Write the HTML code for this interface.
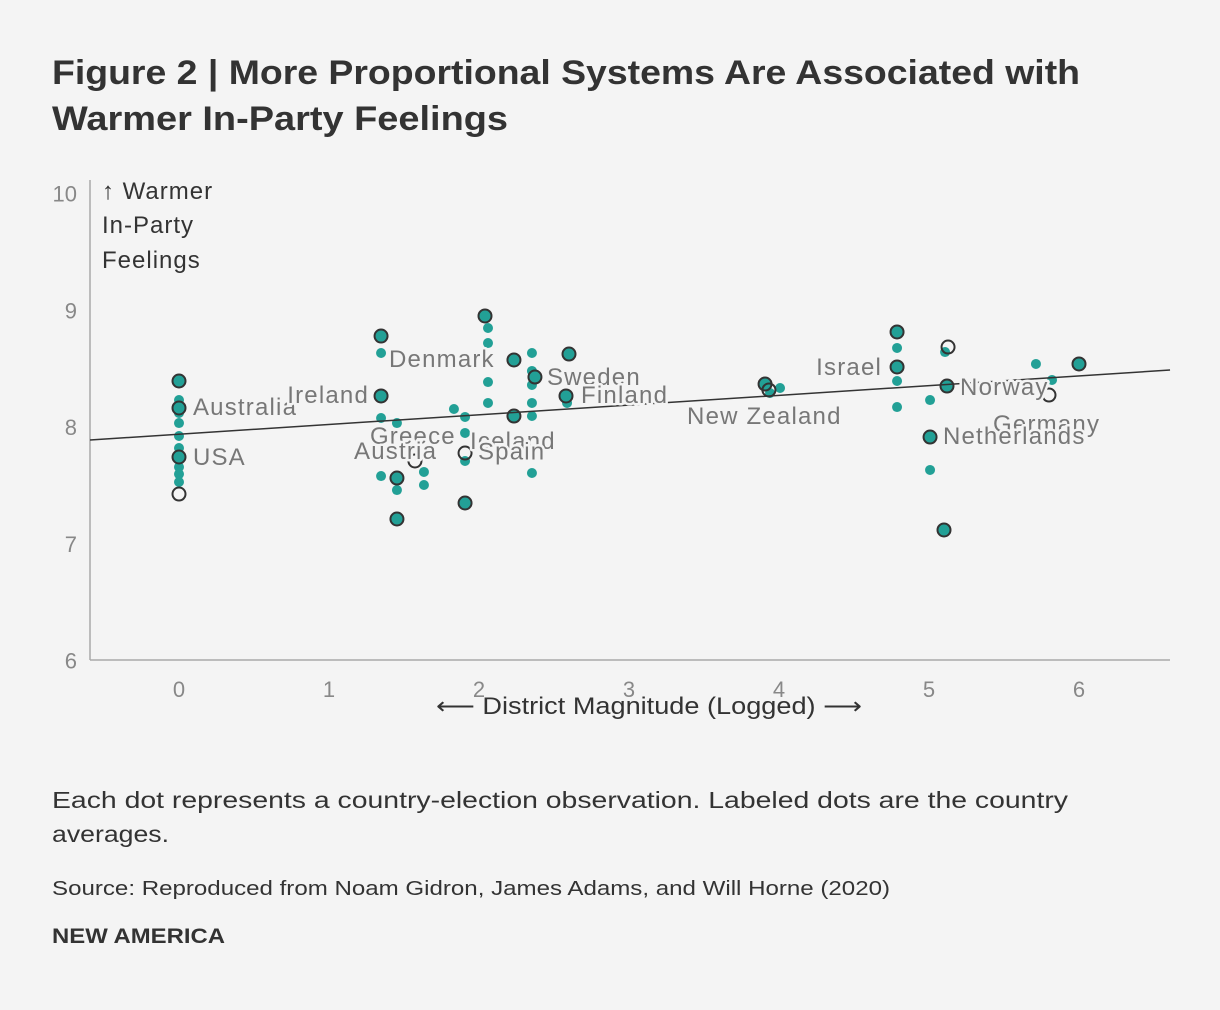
<!DOCTYPE html>
<html><head><meta charset="utf-8"><style>
body{margin:0;background:#f4f4f4;}
svg{display:block;font-family:"Liberation Sans",sans-serif;}
.lbl{font-size:24px;letter-spacing:1.2px;fill:#777;stroke:#f4f4f4;stroke-width:5px;paint-order:stroke;stroke-linejoin:round;}
</style></head><body>
<svg id="chart" width="1220" height="1010">
<rect width="1220" height="1010" fill="#f4f4f4"/>
<text x="52" y="84" font-size="34" font-weight="bold" fill="#333" textLength="1028" lengthAdjust="spacingAndGlyphs">Figure 2 | More Proportional Systems Are Associated with</text>
<text x="52" y="130" font-size="34" font-weight="bold" fill="#333" textLength="456" lengthAdjust="spacingAndGlyphs">Warmer In-Party Feelings</text>
<g font-size="24" fill="#333" letter-spacing="1">
<text x="102" y="199">↑ Warmer</text><text x="102" y="233">In-Party</text><text x="102" y="268">Feelings</text></g>
<line x1="90" y1="180" x2="90" y2="660" stroke="#aaa" stroke-width="1.5"/>
<line x1="90" y1="660" x2="1170" y2="660" stroke="#aaa" stroke-width="1.5"/>
<text x="436" y="714" font-size="24" fill="#333" textLength="426" lengthAdjust="spacingAndGlyphs">⟵ District Magnitude (Logged) ⟶</text>
<g id="ticks"></g><g id="obs"></g><g id="avg"></g><g id="trend"></g><g id="labels"></g>
<text x="52" y="808" font-size="23" fill="#333" textLength="1016" lengthAdjust="spacingAndGlyphs">Each dot represents a country-election observation. Labeled dots are the country</text>
<text x="52" y="842" font-size="23" fill="#333" textLength="117" lengthAdjust="spacingAndGlyphs">averages.</text>
<text x="52" y="895" font-size="20" fill="#333" textLength="838" lengthAdjust="spacingAndGlyphs">Source: Reproduced from Noam Gidron, James Adams, and Will Horne (2020)</text>
<text x="52" y="943" font-size="21" font-weight="bold" fill="#333" textLength="173" lengthAdjust="spacingAndGlyphs">NEW AMERICA</text>
</svg>
<script>
const xTicks=[0,1,2,3,4,5,6];
const yTicks=[6,7,8,9,10];
const obsX=[0,0,0,0,0,0,0,0,0,0,1.347,1.347,1.347,1.453,1.453,1.633,1.633,1.833,1.907,1.907,1.907,2.06,2.06,2.06,2.06,2.353,2.353,2.353,2.353,2.353,2.353,2.587,4.787,4.787,4.787,5.007,5.007,5.107,5.713,5.82,4.007,3.94];
const obsY=[8.231,8.163,8.12,8.034,7.923,7.82,7.743,7.657,7.597,7.529,8.634,8.077,7.58,8.034,7.46,7.615,7.503,8.154,8.086,7.949,7.709,8.848,8.719,8.385,8.206,8.634,8.48,8.36,8.206,8.094,7.606,8.206,8.677,8.394,8.171,8.231,7.632,8.642,8.54,8.403,8.334,8.291];
const avgX=[0,0,0,0,1.347,1.347,1.453,1.453,1.573,1.907,1.907,2.04,2.233,2.233,2.373,2.6,2.58,3.907,3.933,4.787,4.787,5.007,5.12,5.127,5.1,5.8,6.0];
const avgY=[7.743,8.394,8.163,7.426,8.779,8.266,7.563,7.212,7.709,7.777,7.349,8.951,8.574,8.094,8.428,8.625,8.266,8.368,8.317,8.814,8.514,7.914,8.351,8.685,7.118,8.274,8.54];
const avgHollow=[0,0,0,1,0,0,0,0,1,1,0,0,0,0,0,0,0,0,1,0,0,0,0,1,0,1,0];
const trendX=[-0.593,6.607];
const trendY=[7.889,8.488];
const labelText=["Australia","USA","Ireland","Denmark","Greece","Iceland","Austria","Spain","Sweden","Finland","New Zealand","Israel","Norway","Germany","Netherlands"];
const labelX=[0.093,0.093,1.267,1.4,1.273,1.94,1.167,1.993,2.453,2.68,3.387,4.687,5.207,5.427,5.093];
const labelY=[8.103,7.675,8.205,8.514,7.854,7.81,7.726,7.72,8.36,8.205,8.026,8.445,8.274,7.957,7.854];
const labelEnd=[0,0,1,0,0,0,0,0,0,0,0,1,0,0,0];
const sx=v=>179+v*150, sy=v=>427-(v-8)*116.75;
const NS="http://www.w3.org/2000/svg";
function mk(tag,attrs,parent){const e=document.createElementNS(NS,tag);for(const k in attrs)e.setAttribute(k,attrs[k]);document.getElementById(parent).appendChild(e);return e;}
xTicks.forEach(t=>{const e=mk('text',{x:sx(t),y:697,'font-size':22,fill:'#888','text-anchor':'middle'},'ticks');e.textContent=t;

});
yTicks.forEach(t=>{const e=mk('text',{x:77,y:sy(t)+8,'font-size':22,fill:'#888','text-anchor':'end'},'ticks');e.textContent=t;

});
obsX.forEach((x,i)=>{const e=mk('circle',{cx:sx(x),cy:sy(obsY[i]),r:5,fill:'#22a096'},'obs');

});
avgX.forEach((x,i)=>{const e=mk('circle',{cx:sx(x),cy:sy(avgY[i]),r:6.5,fill:avgHollow[i]?'none':'#22a096',stroke:'#333','stroke-width':2},'avg');

});
const tl=mk('line',{x1:sx(trendX[0]),y1:sy(trendY[0]),x2:sx(trendX[1]),y2:sy(trendY[1]),stroke:'#333','stroke-width':1.5},'trend');


labelText.forEach((t,i)=>{const e=mk('text',{x:sx(labelX[i]),y:sy(labelY[i]),class:'lbl','text-anchor':labelEnd[i]?'end':'start'},'labels');e.textContent=t;

});
</script>
</body></html>
